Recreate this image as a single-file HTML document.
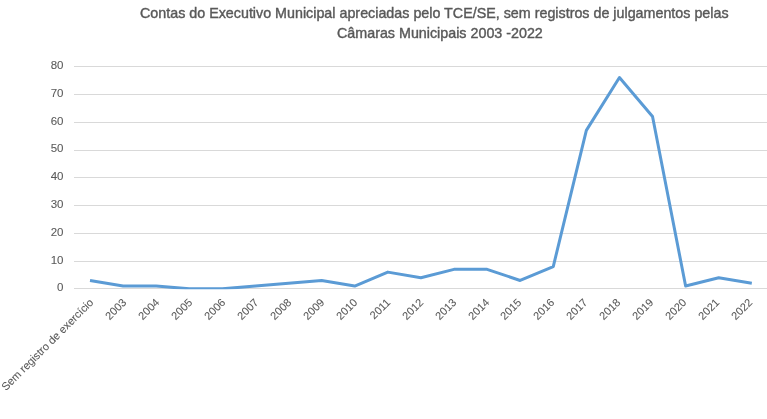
<!DOCTYPE html>
<html><head><meta charset="utf-8"><style>
html,body{margin:0;padding:0;background:#fff;-webkit-font-smoothing:antialiased;will-change:transform;}
body{width:767px;height:419px;position:relative;overflow:hidden;font-family:"Liberation Sans",sans-serif;color:#595959;}
.t{position:absolute;white-space:pre;letter-spacing:0px;-webkit-text-stroke:0.4px #595959;font-size:14.3px;line-height:20px;}
.yl{position:absolute;-webkit-text-stroke:0.08px #595959;right:703.5px;font-size:11.5px;line-height:12px;text-align:right;}
.xl{position:absolute;-webkit-text-stroke:0.08px #595959;white-space:pre;font-size:11px;line-height:12px;transform-origin:100% 0;transform:translateX(-100%) rotate(-45deg);}
svg{position:absolute;left:0;top:0;}
</style></head><body>
<svg width="767" height="419" viewBox="0 0 767 419"><defs><clipPath id="c"><rect x="0" y="0" width="767" height="289.3"/></clipPath></defs><rect x="74" y="288" width="693" height="1" fill="#D9D9D9"/><rect x="74" y="261" width="693" height="1" fill="#D9D9D9"/><rect x="74" y="233" width="693" height="1" fill="#D9D9D9"/><rect x="74" y="205" width="693" height="1" fill="#D9D9D9"/><rect x="74" y="177" width="693" height="1" fill="#D9D9D9"/><rect x="74" y="150" width="693" height="1" fill="#D9D9D9"/><rect x="74" y="122" width="693" height="1" fill="#D9D9D9"/><rect x="74" y="94" width="693" height="1" fill="#D9D9D9"/><rect x="74" y="66" width="693" height="1" fill="#D9D9D9"/>
<polyline points="90.00,280.46 123.09,286.02 156.18,286.02 189.27,288.80 222.36,288.80 255.45,286.02 288.54,283.24 321.63,280.46 354.72,286.02 387.81,272.12 420.90,277.68 453.99,269.34 487.08,269.34 520.17,280.46 553.26,266.56 586.35,130.34 619.44,77.52 652.53,116.44 685.62,286.02 718.71,277.68 751.80,283.24" fill="none" stroke="#5B9BD5" stroke-width="3" stroke-linejoin="round" stroke-linecap="butt" clip-path="url(#c)"/>
</svg>
<div class="t" style="left:140px;top:3px">Contas do Executivo Municipal apreciadas pelo TCE/SE, sem registros de julgamentos pelas</div>
<div class="t" style="left:337px;top:23px">Câmaras Municipais 2003 -2022</div>
<div class="yl" style="top:281.30px">0</div><div class="yl" style="top:253.50px">10</div><div class="yl" style="top:225.70px">20</div><div class="yl" style="top:197.90px">30</div><div class="yl" style="top:170.10px">40</div><div class="yl" style="top:142.30px">50</div><div class="yl" style="top:114.50px">60</div><div class="yl" style="top:86.70px">70</div><div class="yl" style="top:58.90px">80</div>
<div class="xl" style="left:87.00px;top:296.0px">Sem registro de exercício</div><div class="xl" style="left:120.09px;top:296.0px">2003</div><div class="xl" style="left:153.04px;top:296.0px">2004</div><div class="xl" style="left:185.99px;top:296.0px">2005</div><div class="xl" style="left:218.94px;top:296.0px">2006</div><div class="xl" style="left:251.89px;top:296.0px">2007</div><div class="xl" style="left:284.84px;top:296.0px">2008</div><div class="xl" style="left:317.79px;top:296.0px">2009</div><div class="xl" style="left:350.74px;top:296.0px">2010</div><div class="xl" style="left:383.69px;top:296.0px">2011</div><div class="xl" style="left:416.64px;top:296.0px">2012</div><div class="xl" style="left:449.59px;top:296.0px">2013</div><div class="xl" style="left:482.54px;top:296.0px">2014</div><div class="xl" style="left:515.49px;top:296.0px">2015</div><div class="xl" style="left:548.44px;top:296.0px">2016</div><div class="xl" style="left:581.39px;top:296.0px">2017</div><div class="xl" style="left:614.34px;top:296.0px">2018</div><div class="xl" style="left:647.29px;top:296.0px">2019</div><div class="xl" style="left:680.24px;top:296.0px">2020</div><div class="xl" style="left:713.19px;top:296.0px">2021</div><div class="xl" style="left:746.14px;top:296.0px">2022</div>
</body></html>
